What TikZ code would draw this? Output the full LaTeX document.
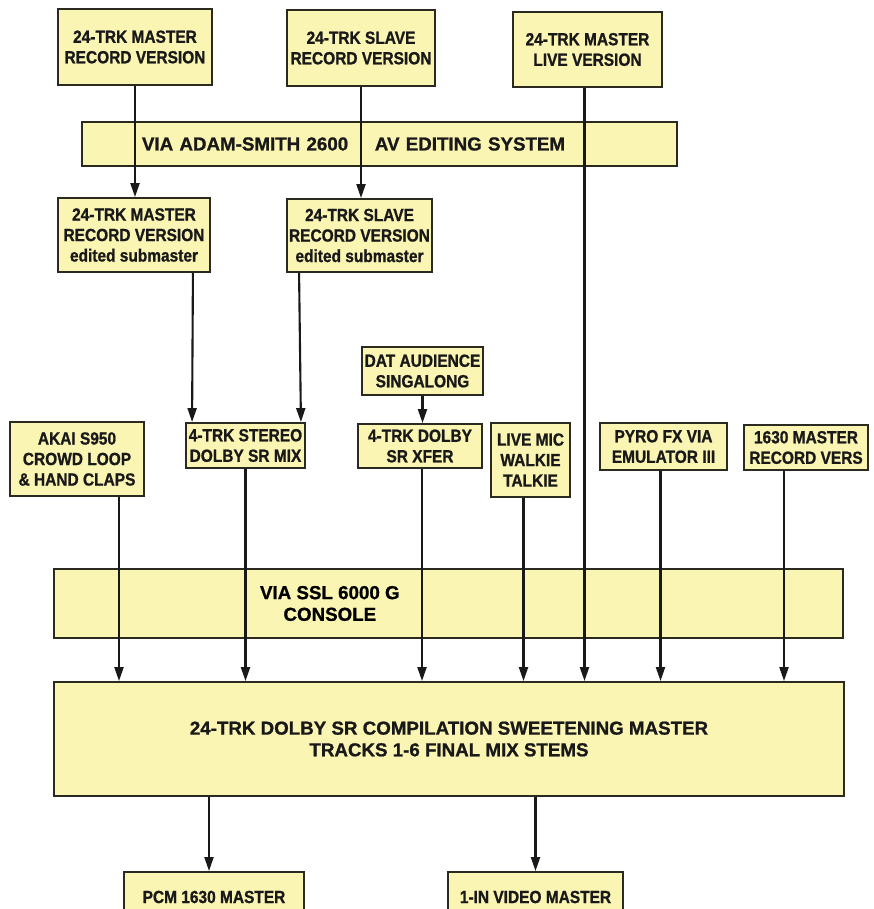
\documentclass[tikz,border=0pt]{standalone}
\usepackage{fontspec}
\setmainfont{Liberation Sans}[FakeStretch=0.88, BoldFeatures={FakeBold=1}]
\newfontfamily\barfont{Liberation Sans}[BoldFeatures={FakeBold=1}]
\usetikzlibrary{arrows.meta,calc}
\definecolor{boxfill}{HTML}{FBF5B4}
\definecolor{boxline}{HTML}{2B2A20}

\begin{document}
\begin{tikzpicture}[
    x=0.03cm, y=-0.03cm,
    font=\bfseries\fontsize{15}{17.5}\selectfont,
    box/.style 2 args={draw=boxline, fill=boxfill, rectangle, align=center, inner sep=1pt, line width=1.6pt, text=black!90, minimum width=#1*0.03cm, minimum height=#2*0.03cm},
    bartext/.style={font=\barfont\bfseries\fontsize{16}{18.5}\selectfont},
    arr/.style={-{Triangle[length=0.42cm,width=0.27cm]}, draw=black!90, line width=1.8pt}
  ]
    \useasboundingbox (0,0) rectangle (873,909);
    % sources on the multitrack
    \node[box={154}{76}] (m1) at (135,47) {24-TRK MASTER\\RECORD VERSION};
    \node[box={148}{76}] (s1) at (361,48) {24-TRK SLAVE\\RECORD VERSION};
    \node[box={149}{75}] (live) at (587.5,49.5) {24-TRK MASTER\\LIVE VERSION};
    \node[box={595}{44}, bartext, text width=14.25cm, inner xsep=1.8cm, align=left] (adam) at (379.5,144) {VIA ADAM-SMITH 2600\hspace{0.8cm}AV EDITING SYSTEM};
    \node[box={152}{74}] (m2) at (134,235) {24-TRK MASTER\\RECORD VERSION\\edited submaster};
    \node[box={145}{73}] (s2) at (359.5,235.5) {24-TRK SLAVE\\RECORD VERSION\\edited submaster};
    % second row
    \node[box={121}{48}] (dat) at (422.5,371) {DAT AUDIENCE\\SINGALONG};
    \node[box={134}{74}] (akai) at (77,459) {AKAI S950\\CROWD LOOP\\\& HAND CLAPS};
    \node[box={119}{45}] (stereo) at (245.5,445.5) {4-TRK STEREO\\DOLBY SR MIX};
    \node[box={124}{44}] (xfer) at (420,446) {4-TRK DOLBY\\SR XFER};
    \node[box={79}{74}] (mic) at (530.5,460) {LIVE MIC\\WALKIE\\TALKIE};
    \node[box={127}{47}] (pyro) at (663.5,446.5) {PYRO FX VIA\\EMULATOR III};
    \node[box={124}{45}] (vers) at (806,447.5) {1630 MASTER\\RECORD VERS};
    % console and compilation master
    \node[box={789}{69}, label={[bartext, xshift=-3.56cm, align=center]center:VIA SSL 6000 G\\CONSOLE}] (ssl) at (448.5,603.5) {};
    \node[box={790}{114}, bartext] (comp) at (449,739) {24-TRK DOLBY SR COMPILATION SWEETENING MASTER\\TRACKS 1-6 FINAL MIX STEMS};
    \node[box={180}{50}] (pcm) at (214,897) {PCM 1630 MASTER};
    \node[box={175}{50}] (video) at (535.5,897) {1-IN VIDEO MASTER};
    % connectors
    \draw[arr] (m1.south) -- (m1.south |- m2.north);
    \draw[arr] (s1.south) -- (s1.south |- s2.north);
    \draw[arr] ($(m2.south east)+(-18,0)$) -- ($(stereo.north west)+(7,0)$);
    \draw[arr] ($(s2.south west)+(13,0)$) -- ($(stereo.north east)+(-5,0)$);
    \draw[arr] (dat.south) -- (dat.south |- xfer.north);
    \draw[arr] ($(akai.south)+(42,0)$) coordinate (ak) -- (ak |- comp.north);
    \draw[arr] (stereo.south) -- (stereo.south |- comp.north);
    \draw[arr] ($(xfer.south)+(2,0)$) coordinate (xf) -- (xf |- comp.north);
    \draw[arr] ($(mic.south)+(-7,0)$) coordinate (mc) -- (mc |- comp.north);
    \draw[arr] ($(live.south)+(-3,0)$) coordinate (lv) -- (lv |- comp.north);
    \draw[arr] ($(pyro.south)+(-3,0)$) coordinate (py) -- (py |- comp.north);
    \draw[arr] ($(vers.south)+(-22,0)$) coordinate (vr) -- (vr |- comp.north);
    \coordinate (pc) at ($(pcm.north)+(-5,0)$);
    \draw[arr] (pc |- comp.south) -- (pc);
    \draw[arr] (video.north |- comp.south) -- (video.north);
  \end{tikzpicture}
\end{document}
